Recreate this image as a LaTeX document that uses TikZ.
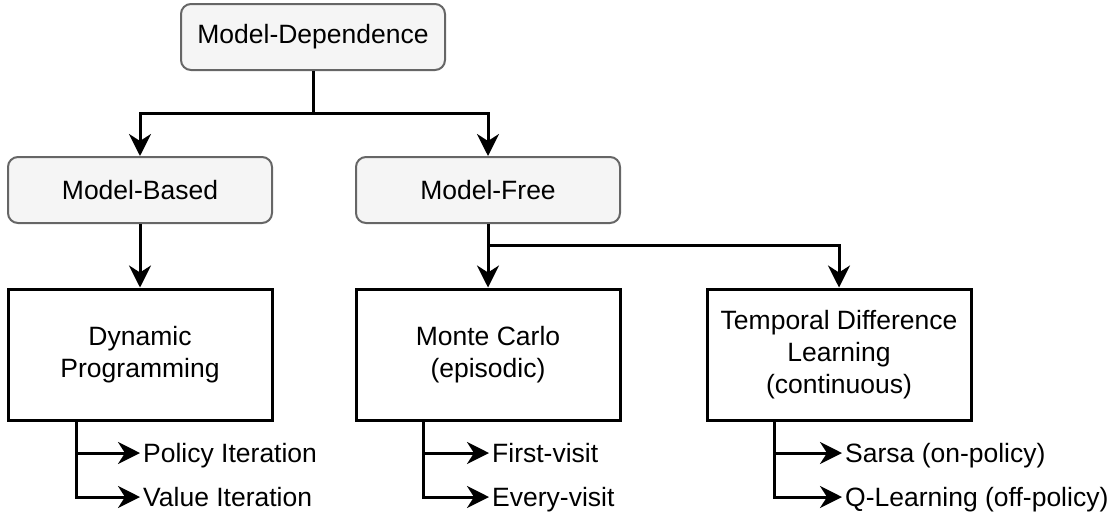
\documentclass[tikz,border=0pt]{standalone}
\usepackage{fontspec}
\setmainfont{Liberation Sans}
\usetikzlibrary{arrows.meta}

\tikzset{
  category/.style={draw=black!60, fill=black!4, line width=2pt, rounded corners=10pt,
    minimum width=264pt, minimum height=66pt, inner sep=0pt, align=center},
  method/.style={draw=black, fill=white, line width=3pt,
    minimum width=264pt, minimum height=131pt, inner sep=0pt, align=center},
  variant/.style={anchor=west, inner xsep=3pt, inner ysep=0pt,
    text height=18pt, text depth=0pt},
  link/.style={draw=black, line width=3pt},
  tip/.style={-{Stealth[length=22pt,width=22pt,inset=7pt]}},
  arrowlink/.style={link, tip},
  branch/.style={link, tip}
}

\begin{document}
\begin{tikzpicture}[x=1pt, y=-1pt, font=\fontsize{26.5}{32}\selectfont]
  \useasboundingbox (0,0) rectangle (1111,515);

  % Taxonomy levels
  \node[category] (dep)  at (313,37)  {Model-Dependence};
  \node[category] (mb)   at (140,190) {Model-Based};
  \node[category] (mf)   at (488,190) {Model-Free};
  \node[method]   (dp)   at (140,354.5) {Dynamic\\Programming};
  \node[method]   (mc)   at (488,354.5) {Monte Carlo\\(episodic)};
  \node[method]   (td)   at (839,354.5) {Temporal Difference\\Learning\\(continuous)};

  % Variants under each method
  \node[variant] (pi)  at (140,453) {Policy Iteration};
  \node[variant] (vi)  at (140,497) {Value Iteration};
  \node[variant] (fv)  at (489,453) {First-visit};
  \node[variant] (ev)  at (489,497) {Every-visit};
  \node[variant] (sa)  at (842,453) {Sarsa (on-policy)};
  \node[variant] (ql)  at (842,497) {Q-Learning (off-policy)};

  % Split points of the tree connectors
  \coordinate (depsplit) at (313,113);
  \coordinate (mfsplit)  at (488,245);

  % Tree connectors
  \draw[link] (dep.south) -- (depsplit);
  \draw[arrowlink] (depsplit) -| (mb.north);
  \draw[arrowlink] (depsplit) -| (mf.north);
  \draw[arrowlink] (mb.south) -- (dp.north);
  \draw[arrowlink] (mf.south) -- (mc.north);
  \draw[arrowlink] (mfsplit) -| (td.north);

  % Variant connectors
  \draw[branch] ([xshift=-64pt]dp.south) |- (pi.west);
  \draw[branch] ([xshift=-64pt]dp.south) |- (vi.west);
  \draw[branch] ([xshift=-65pt]mc.south) |- (fv.west);
  \draw[branch] ([xshift=-65pt]mc.south) |- (ev.west);
  \draw[branch] ([xshift=-65pt]td.south) |- (sa.west);
  \draw[branch] ([xshift=-65pt]td.south) |- (ql.west);
\end{tikzpicture}
\end{document}
